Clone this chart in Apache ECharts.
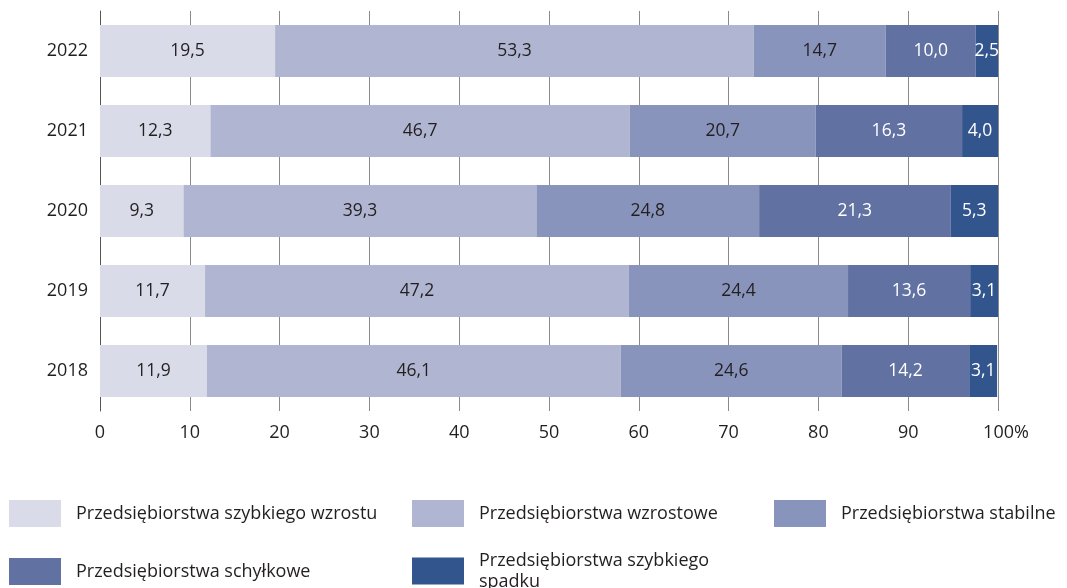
<!DOCTYPE html>
<html><head><meta charset="utf-8">
<script src="https://cdn.jsdelivr.net/npm/echarts@6/dist/echarts.min.js"></script>
<style>html,body{margin:0;padding:0;background:#fff}#c{width:1067px;height:588px}</style>
</head><body><div id="c"></div>
<script>
const years = ['2018','2019','2020','2021','2022'];
const seriesNames = ['Przedsiębiorstwa szybkiego wzrostu','Przedsiębiorstwa wzrostowe','Przedsiębiorstwa stabilne','Przedsiębiorstwa schyłkowe','Przedsiębiorstwa szybkiego\nspadku'];
const szybkiWzrost = [11.9, 11.7, 9.3, 12.3, 19.5];
const wzrostowe = [46.1, 47.2, 39.3, 46.7, 53.3];
const stabilne = [24.6, 24.4, 24.8, 20.7, 14.7];
const schylkowe = [14.2, 13.6, 21.3, 16.3, 10.0];
const szybkiSpadek = [3.1, 3.1, 5.3, 4.0, 2.5];
const xTicks = [0,10,20,30,40,50,60,70,80,90,100];

const colors = ['#d9dbe8','#b0b5d1','#8894bb','#6172a2','#33558e'];
const labelColors = ['#231f20','#231f20','#231f20','#ffffff','#ffffff'];
const FONT = 'Open Sans';
const allData = [szybkiWzrost, wzrostowe, stabilne, schylkowe, szybkiSpadek];

const series = allData.map((d,i)=>({
  name: seriesNames[i], type:'bar', stack:'all', data:d, barCategoryGap:'35%',
  itemStyle:{color:colors[i]},
  label:{show:true, position:'inside', color:labelColors[i], fontFamily:FONT, fontSize:17.5,
    formatter:p=>p.value.toFixed(1).replace('.',',')},
  emphasis:{disabled:true}
}));

const legendPos = [[9,500],[412,500],[774,500],[9,558],[412,550]];
const legends = seriesNames.map((n,i)=>({
  data:[n], left:legendPos[i][0], top:legendPos[i][1], itemWidth:52, itemHeight:27, icon:'rect',
  selectedMode:false, padding:0,
  textStyle:{fontFamily:FONT, fontSize:18, color:'#231f20', padding:[0,0,0,10], lineHeight:21}
}));

const chart = echarts.init(document.getElementById('c'));
chart.setOption({
  animation:false,
  grid:{left:100, right:69, top:11, bottom:177},
  xAxis:{type:'value', min:0, max:100, interval:10,
    axisLine:{show:false}, axisTick:{show:false},
    splitLine:{show:true, lineStyle:{color:'#8a8a8a', width:1}},
    axisLabel:{fontFamily:FONT, fontSize:18, color:'#231f20', margin:13,
      formatter:v=> v===100 ? '{p|100%}' : String(v),
      rich:{p:{fontFamily:FONT, fontSize:18, color:'#231f20', padding:[0,0,0,16]}}}
  },
  yAxis:{type:'category', data:years,
    axisLine:{show:true, lineStyle:{color:'#555', width:1}}, axisTick:{show:false},
    axisLabel:{fontFamily:FONT, fontSize:18, color:'#231f20', margin:12}
  },
  legend:legends,
  series:series
});
</script></body></html>
